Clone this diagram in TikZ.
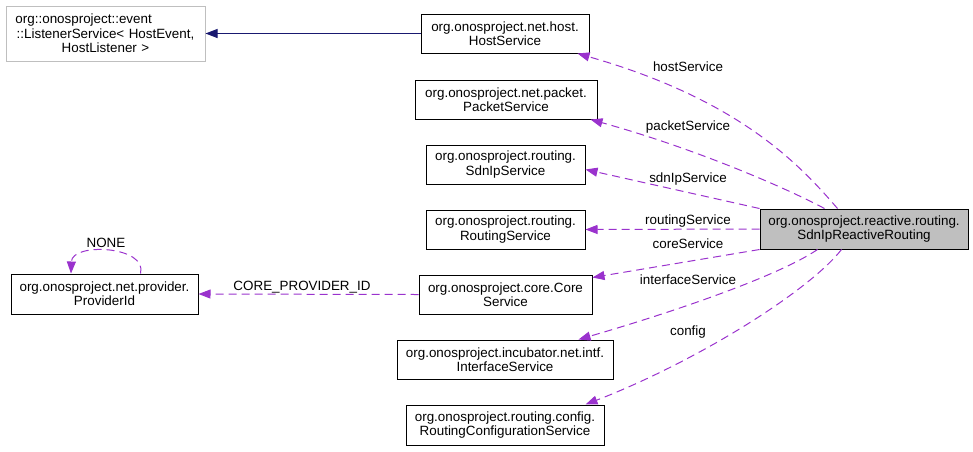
\documentclass[tikz,border=0pt]{standalone}
\usepackage{fontspec}
\setmainfont{Liberation Sans}
\usetikzlibrary{arrows.meta}
\definecolor{edgepurple}{HTML}{9A32CD}
\definecolor{edgenavy}{HTML}{191970}
\definecolor{boxgray}{HTML}{BFBFBF}

\begin{document}
\begin{tikzpicture}[x=1pt,y=-1pt]
\tikzset{every node/.style={font=\fontsize{13.4}{14.3}\selectfont}}
\tikzset{cls/.style = {shape=rectangle,draw,line width=1pt,align=center,inner sep=0pt}}
\tikzset{lbl/.style = {inner sep=0pt}}
\tikzset{edge/.style = {draw=edgepurple,line width=1pt,dash pattern=on 8pt off 5pt,
	> = {Triangle[length=12pt,width=9pt]},->}}
\tikzset{inherit/.style = {draw=edgenavy,line width=1pt,
	> = {Triangle[length=12pt,width=9pt]},->}}
\useasboundingbox (0,0) rectangle (973,451);
% classes
\node[cls,draw=boxgray,minimum width=199pt,minimum height=55pt,text width=180pt] (listener) at (105.5,33.5)
	{org::onosproject::event\hfill\mbox{}\\::ListenerService< HostEvent,\\HostListener >};
\node[cls,minimum width=168pt,minimum height=39pt] (host) at (505,33.5) {org.onosproject.net.host.\\HostService};
\node[cls,minimum width=182pt,minimum height=39pt] (packet) at (506,99.5) {org.onosproject.net.packet.\\PacketService};
\node[cls,minimum width=159pt,minimum height=39pt] (sdnip) at (505.5,164.5) {org.onosproject.routing.\\SdnIpService};
\node[cls,minimum width=159pt,minimum height=39pt] (routing) at (505.5,229.5) {org.onosproject.routing.\\RoutingService};
\node[cls,minimum width=173pt,minimum height=39pt] (core) at (505.5,294.5) {org.onosproject.core.Core\\Service};
\node[cls,minimum width=216pt,minimum height=39pt] (intf) at (505,359.5) {org.onosproject.incubator.net.intf.\\InterfaceService};
\node[cls,minimum width=198pt,minimum height=40pt] (config) at (505,425) {org.onosproject.routing.config.\\RoutingConfigurationService};
\node[cls,minimum width=187pt,minimum height=40pt] (provider) at (104.5,294) {org.onosproject.net.provider.\\ProviderId};
\node[cls,fill=boxgray,minimum width=208pt,minimum height=40pt] (reactive) at (864,229) {org.onosproject.reactive.routing.\\SdnIpReactiveRouting};

% labels
\node[lbl] (lhost) at (688,67) {hostService};
\node[lbl] (lpacket) at (688,127) {packetService};
\node[lbl] (lsdnip) at (688,179) {sdnIpService};
\node[lbl] (lrouting) at (688,221) {routingService};
\node[lbl] (lcore) at (688,244) {coreService};
\node[lbl] (lintf) at (688,280) {interfaceService};
\node[lbl] (lconfig) at (688,332) {config};
\node[lbl] (lprovider) at (302,287) {CORE\_PROVIDER\_ID};
\node[lbl] (lnone) at (106,243) {NONE};

%edges
\draw[inherit] (host.west) -- (listener.east);
\draw[edge] ([xshift=78pt]reactive.north west) .. controls (800,165) and (740,100) .. ([xshift=-12pt]host.south east);
\draw[edge] ([xshift=65pt]reactive.north west) .. controls (790,190) and (700,150) .. ([xshift=-7pt]packet.south east);
\draw[edge] (reactive.north west) -- ([yshift=-5pt]sdnip.east);
\draw[edge] (reactive.west) -- (routing.east);
\draw[edge] (reactive.south west) -- ([yshift=-3pt]core.north east);
\draw[edge] ([xshift=58pt]reactive.south west) .. controls (780,275) and (680,310) .. ([xshift=-35pt]intf.north east);
\draw[edge] ([xshift=82pt]reactive.south west) .. controls (810,290) and (700,360) .. ([xshift=-19pt]config.north east);
\draw[edge] (core.west) -- (provider.east);
\draw[edge] ([xshift=36pt]provider.north) .. controls (148,246) and (72,242) .. ([xshift=-33.5pt]provider.north);
\end{tikzpicture}
\end{document}
